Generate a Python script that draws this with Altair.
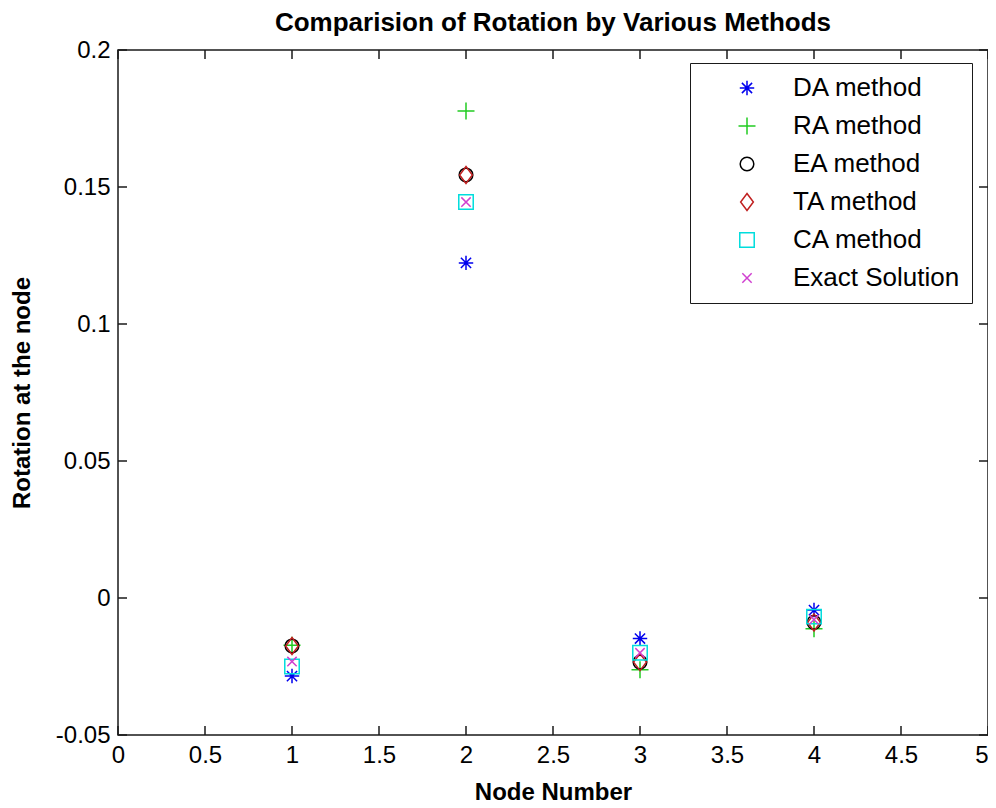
import altair as alt
import pandas as pd

series = ["DA method", "RA method", "EA method", "TA method", "CA method", "Exact Solution"]
nodes = [1, 2, 3, 4]
da_vals = [-0.0285, 0.1223, -0.0148, -0.0044]
ra_vals = [-0.0172, 0.1777, -0.0262, -0.0112]
ea_vals = [-0.0175, 0.1544, -0.0234, -0.0089]
ta_vals = [-0.0175, 0.1544, -0.0234, -0.0089]
ca_vals = [-0.0250, 0.1445, -0.0200, -0.0068]
ex_vals = [-0.0232, 0.1445, -0.0200, -0.0079]

x_ticks = [0, 0.5, 1, 1.5, 2, 2.5, 3, 3.5, 4, 4.5, 5]
y_ticks = [-0.05, 0, 0.05, 0.1, 0.15, 0.2]

colors = ["#0000ee", "#22cc22", "#000000", "#c02020", "#00dddd", "#d040d0"]
shapes = [
    "M-0.85,0H0.85M0,-0.85V0.85M-0.6,-0.6L0.6,0.6M-0.6,0.6L0.6,-0.6",
    "M-1,0H1M0,-1V1",
    "M0.8,0A0.8,0.8,0,1,1,-0.8,0A0.8,0.8,0,1,1,0.8,0Z",
    "M0,-1L0.75,0L0,1L-0.75,0Z",
    "M-0.85,-0.85H0.85V0.85H-0.85Z",
    "M-0.55,-0.55L0.55,0.55M-0.55,0.55L0.55,-0.55",
]

all_vals = [da_vals, ra_vals, ea_vals, ta_vals, ca_vals, ex_vals]
rows = []
for s, vals in zip(series, all_vals):
    for n, v in zip(nodes, vals):
        rows.append({"node": n, "rotation": v, "method": s})
df = pd.DataFrame(rows)

W, H = 870, 685
FONT = "Liberation Sans"
FRAME = "#1a1a1a"

xscale = alt.Scale(domain=[0, 5], nice=False, zero=False)
yscale = alt.Scale(domain=[-0.05, 0.2], nice=False, zero=False)

xaxis = alt.Axis(
    values=x_ticks, title="Node Number", grid=False, domain=False, ticks=False,
    labelExpr="'' + datum.value", labelFontSize=24, labelFont=FONT, labelColor="black",
    labelPadding=8, labelFlush=False, labelOverlap=False,
    labelAlign={"condition": {"test": "datum.value == 5", "value": "right"}, "value": "center"},
    titleFont=FONT, titleFontSize=24, titleFontWeight="bold",
    titleColor="black", titlePadding=13)
yaxis = alt.Axis(
    values=y_ticks, title="Rotation at the node", grid=False, domain=False, ticks=False,
    labelExpr="'' + datum.value", labelFontSize=24, labelFont=FONT, labelColor="black",
    labelPadding=8, labelFlush=False, labelOverlap=False,
    titleFont=FONT, titleFontSize=24, titleFontWeight="bold",
    titleColor="black", titlePadding=21)

points = alt.Chart(df).mark_point(filled=False, strokeWidth=1.5, size=289, opacity=1).encode(
    x=alt.X("node:Q", scale=xscale, axis=xaxis),
    y=alt.Y("rotation:Q", scale=yscale, axis=yaxis),
    color=alt.Color("method:N", scale=alt.Scale(domain=series, range=colors), sort=series,
                    legend=alt.Legend(title=None, orient="none", legendX=572, legendY=13,
                                      padding=12, strokeColor=FRAME, fillColor="white",
                                      labelFont=FONT, labelFontSize=26, labelColor="black",
                                      labelLimit=400,
                                      symbolSize=289, symbolStrokeWidth=1.5, rowPadding=12,
                                      symbolOffset=32, labelOffset=33, direction="vertical")),
    shape=alt.Shape("method:N", scale=alt.Scale(domain=series, range=shapes), sort=series),
    order=alt.Order("idx:Q"),
).transform_calculate(idx="indexof(" + str(series) + ", datum.method)")

xt = pd.DataFrame({"node": x_ticks})
yt = pd.DataFrame({"rotation": y_ticks})
tick_len = 9
bottom_ticks = alt.Chart(xt).mark_rule(color=FRAME, strokeWidth=1.5).encode(
    x=alt.X("node:Q", scale=xscale, axis=xaxis), y=alt.value(H), y2=alt.value(H - tick_len))
top_ticks = alt.Chart(xt).mark_rule(color=FRAME, strokeWidth=1.5).encode(
    x=alt.X("node:Q", scale=xscale, axis=xaxis), y=alt.value(0), y2=alt.value(tick_len))
left_ticks = alt.Chart(yt).mark_rule(color=FRAME, strokeWidth=1.5).encode(
    y=alt.Y("rotation:Q", scale=yscale, axis=yaxis), x=alt.value(0), x2=alt.value(tick_len))
right_ticks = alt.Chart(yt).mark_rule(color=FRAME, strokeWidth=1.5).encode(
    y=alt.Y("rotation:Q", scale=yscale, axis=yaxis), x=alt.value(W), x2=alt.value(W - tick_len))

chart = alt.layer(points, bottom_ticks, top_ticks, left_ticks, right_ticks).properties(
    width=W, height=H, background="white",
    title=alt.TitleParams("Comparision of Rotation by Various Methods", font=FONT, fontSize=26,
                          fontWeight="bold", color="black", anchor="middle", offset=2),
    autosize=alt.AutoSizeParams(type="none"),
    padding={"left": 110, "top": 42, "right": 0, "bottom": 72},
).configure_view(stroke=FRAME, strokeWidth=1.5)

chart.save("out.html", embed_options={"renderer": "svg", "actions": False})
